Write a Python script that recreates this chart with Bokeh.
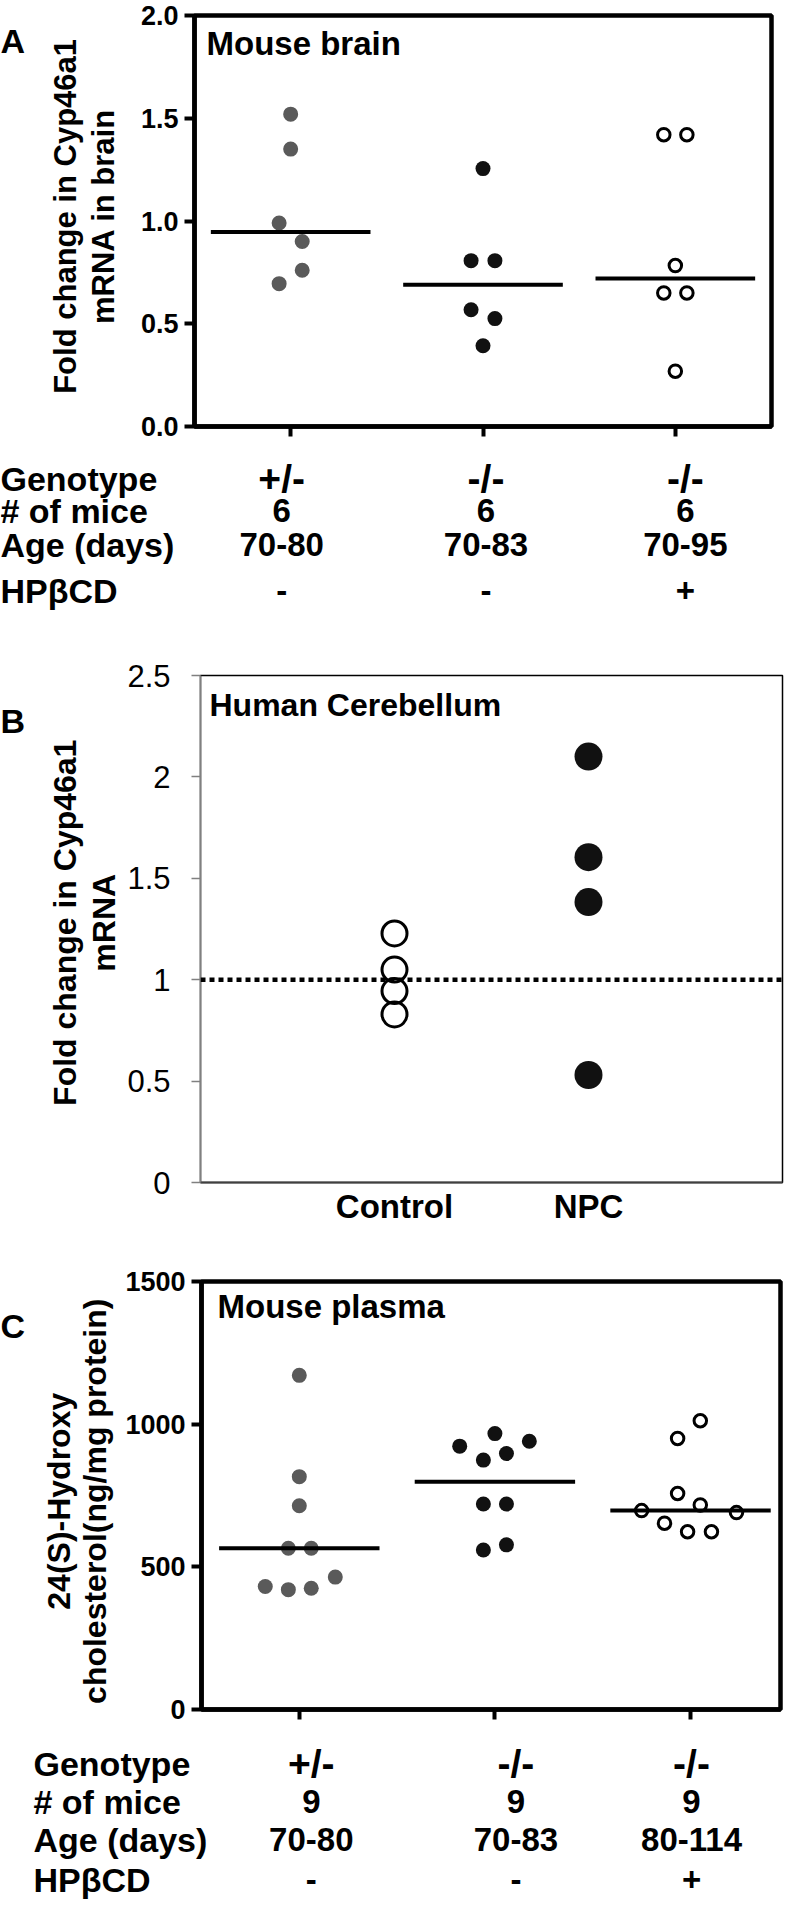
import math
from bokeh.plotting import figure
from bokeh.models import FixedTicker, Range1d, Label, Span
from bokeh.layouts import column, row
from bokeh.core.properties import value
from bokeh.embed import file_html
from bokeh.resources import INLINE

FONT = "Liberation Sans"

# ---------------- Panel A: Cyp46a1 mRNA, mouse brain ----------------
a_het = [1.52, 1.35, 0.99, 0.90, 0.76, 0.695]          # +/-
a_ko = [1.255, 0.807, 0.807, 0.568, 0.525, 0.393]     # -/-
a_ko_cd = [1.42, 1.42, 0.783, 0.65, 0.65, 0.269]       # -/- + HPbCD
a_center = [0.947, 0.69, 0.72]
a_yticks = [0, 0.5, 1.0, 1.5, 2.0]
a_ytick_labels = ["0.0", "0.5", "1.0", "1.5", "2.0"]
a_title = ["Fold change in Cyp46a1", "mRNA in brain"]

table_rows = ["Genotype", "# of mice", "Age (days)", "HPβCD"]
a_genotype = ["+/-", "-/-", "-/-"]
a_nmice = ["6", "6", "6"]
a_age = ["70-80", "70-83", "70-95"]
a_hpbcd = ["-", "-", "+"]

# ---------------- Panel B: human cerebellum ----------------
b_categories = ["Control", "NPC"]
b_control = [1.228, 1.05, 0.944, 0.829]
b_npc = [2.10, 1.604, 1.383, 0.53]
b_reference = 1.0
b_yticks = [0, 0.5, 1, 1.5, 2, 2.5]
b_ytick_labels = ["0", "0.5", "1", "1.5", "2", "2.5"]
b_title = ["Fold change in Cyp46a1", "mRNA"]

# ---------------- Panel C: 24(S)-hydroxycholesterol, mouse plasma ----------------
c_het = [1171, 816, 714, 565, 565, 464, 431, 420, 425]
c_ko = [967, 923, 940, 874, 897, 720, 720, 559, 577]
c_ko_cd = [1012, 950, 757, 697, 717, 690, 653, 623, 623]
c_center = [565, 798, 697]
c_yticks = [0, 500, 1000, 1500]
c_ytick_labels = ["0", "500", "1000", "1500"]
c_title = ["24(S)-Hydroxy", "cholesterol(ng/mg protein)"]

c_genotype = ["+/-", "-/-", "-/-"]
c_nmice = ["9", "9", "9"]
c_age = ["70-80", "70-83", "80-114"]
c_hpbcd = ["-", "-", "+"]

# ---------------- layout (horizontal spread of dots, data units) ----------------
cats3 = [1, 2, 3]
a_jit = [[0, 0, -0.06, 0.06, 0.06, -0.06],
         [0, -0.062, 0.062, -0.062, 0.062, 0],
         [-0.06, 0.06, 0, -0.06, 0.06, 0]]
c_jit = [[0, 0, 0, -0.056, 0.061, 0.184, -0.174, -0.056, 0.061],
         [0, -0.18, 0.176, -0.059, 0.059, -0.059, 0.059, -0.059, 0.059],
         [0.05, -0.066, -0.066, -0.25, 0.05, 0.235, -0.133, -0.015, 0.107]]
GRAY = "#5a5a5a"
BLACK = "#111111"
W = 784
LW = 120          # left column (panel letter + y title)
RW = W - LW


def base_fig(w, h, xr, yr, left, right, top, bottom):
    p = figure(width=w, height=h, x_range=xr, y_range=yr, output_backend="svg",
               toolbar_location=None, min_border_left=left, min_border_right=right,
               min_border_top=top, min_border_bottom=bottom)
    p.xgrid.visible = False
    p.ygrid.visible = False
    p.background_fill_color = "white"
    p.border_fill_color = "white"
    return p


def blank_fig(w, h, xr=None):
    p = figure(width=w, height=h, x_range=xr if xr is not None else Range1d(0, w),
               y_range=Range1d(0, h), output_backend="svg", toolbar_location=None,
               x_axis_type=None, y_axis_type=None, min_border=0)
    p.outline_line_color = None
    p.background_fill_color = "white"
    p.border_fill_color = "white"
    return p


def left_column(h, letter, letter_base, title, title_xs, title_mid, title_size):
    """Panel letter and two-line rotated y title; positions in px from the top."""
    p = blank_fig(LW, h)
    p.text(x=[0], y=[h - letter_base], text=[letter], text_font=value(FONT),
           text_font_style="bold", text_font_size="34px", text_color="black",
           text_align="left", text_baseline="alphabetic")
    p.text(x=title_xs, y=[h - title_mid] * len(title), text=title, angle=math.pi / 2,
           text_font=value(FONT), text_font_style="bold", text_font_size=title_size,
           text_color="black", text_align="center", text_baseline="middle")
    return p


def thick_axes(p, yticks, ylabels):
    p.outline_line_color = "black"
    p.outline_line_width = 4.5
    p.outline_line_alpha = 1
    for ax in (p.xaxis[0], p.yaxis[0]):
        ax.axis_line_width = 4.5
        ax.axis_line_color = "black"
        ax.major_tick_line_width = 4
        ax.major_tick_line_color = "black"
        ax.major_tick_out = 10
        ax.major_tick_in = 0
        ax.minor_tick_line_color = None
    ya = p.yaxis[0]
    ya.ticker = FixedTicker(ticks=yticks)
    ya.major_label_overrides = {t: s for t, s in zip(yticks, ylabels)}
    ya.major_label_text_font = FONT
    ya.major_label_text_font_style = "bold"
    ya.major_label_text_font_size = "27px"
    ya.major_label_text_color = "black"
    ya.major_label_standoff = 6
    xa = p.xaxis[0]
    xa.ticker = FixedTicker(ticks=cats3)
    xa.major_label_overrides = {c: "" for c in cats3}
    xa.major_label_text_font_size = "2px"


def table_fig(h, frame_l, frame_r, x0, x1, hdr_px, row_px, cols, col_dx):
    """Row/column table under a panel; x in the panel's data units, y in px from top."""
    s = (frame_r - frame_l) / (x1 - x0)
    xr = Range1d(x0 - frame_l / s, x1 + (W - frame_r) / s)
    p = blank_fig(W, h, xr)
    ys = [h - r for r in row_px]
    p.text(x=[xr.start + hdr_px / s] * len(table_rows), y=ys, text=table_rows,
           text_font=value(FONT), text_font_style="bold", text_font_size="34px",
           text_color="black", text_align="left", text_baseline="middle")
    for i, vals in enumerate(cols):
        p.text(x=[c + d / s for c, d in zip(cats3, col_dx)], y=[ys[i]] * 3, text=vals,
               text_font=value(FONT), text_font_style="bold",
               text_font_size="39px" if i == 0 else "33px",
               text_color="black", text_align="center", text_baseline="middle")
    return p


def add_text(p, x, y, text, size, dx=0):
    p.add_layout(Label(x=x, y=y, x_offset=dx, text=text, text_font=FONT,
                       text_font_style="bold", text_font_size=size, text_color="black",
                       text_align="left", text_baseline="middle"))


def strip(p, groups, jits, center, half, sizes):
    for k, vals in enumerate(groups):
        xs = [cats3[k] + j for j in jits[k]]
        if k == 2:
            p.scatter(x=xs, y=vals, size=sizes[1], fill_color="white",
                      line_color="black", line_width=3)
        else:
            p.scatter(x=xs, y=vals, size=sizes[0], fill_color=GRAY if k == 0 else BLACK,
                      line_color=None)
    p.segment(x0=[c - half for c in cats3], x1=[c + half for c in cats3],
              y0=center, y1=center, line_width=4, line_color="black")


# ================= Panel A =================
HA = 446
pa = base_fig(RW, HA, Range1d(0.5, 3.5), Range1d(0, 2.0), 74, 13, 15, 20)
thick_axes(pa, a_yticks, a_ytick_labels)
strip(pa, [a_het, a_ko, a_ko_cd], a_jit, a_center, 0.415, (15, 12.5))
add_text(pa, 0.5, 1.866, "Mouse brain", "33px", dx=12)
la = left_column(HA, "A", 28, a_title, [65, 103], 218, "31px")
ta = table_fig(191, 194, 771, 0.5, 3.5, 0, [32, 64, 98, 144],
               [a_genotype, a_nmice, a_age, a_hpbcd], [-9, 3, 10])

# ================= Panel B =================
HB = 607
pb = base_fig(RW, HB, Range1d(0, 3), Range1d(0, 2.5), 80, 2, 38, 62)
pb.outline_line_color = "black"
pb.outline_line_width = 1.5
ya = pb.yaxis[0]
ya.ticker = FixedTicker(ticks=b_yticks)
ya.major_label_overrides = {t: s for t, s in zip(b_yticks, b_ytick_labels)}
ya.axis_line_color = "#808080"
ya.axis_line_width = 1.5
ya.major_tick_line_color = "#808080"
ya.major_tick_line_width = 1.5
ya.major_tick_out = 9
ya.major_tick_in = 0
ya.minor_tick_line_color = None
ya.major_label_text_font = FONT
ya.major_label_text_font_size = "31px"
ya.major_label_text_color = "black"
ya.major_label_standoff = 21
xa = pb.xaxis[0]
xa.ticker = FixedTicker(ticks=[1, 2])
xa.major_label_overrides = {i + 1: s for i, s in enumerate(b_categories)}
xa.axis_line_color = "#404040"
xa.axis_line_width = 2
xa.major_tick_line_color = None
xa.minor_tick_line_color = None
xa.major_tick_out = 0
xa.major_label_standoff = 5
xa.major_label_text_font = FONT
xa.major_label_text_font_style = "bold"
xa.major_label_text_font_size = "33px"
xa.major_label_text_color = "black"
pb.add_layout(Span(location=b_reference, dimension="width", line_color="black",
                   line_width=4.5, line_dash="5 4"))
pb.scatter(x=[1] * len(b_control), y=b_control, size=25, fill_color=None,
           line_color="black", line_width=3)
pb.scatter(x=[2] * len(b_npc), y=b_npc, size=28, fill_color=BLACK, line_color=None)
add_text(pb, 0, 2.355, "Human Cerebellum", "32px", dx=9)
lb = left_column(HB, "B", 55, b_title, [64, 103], 296, "32px")

# ================= Panel C =================
HC = 485
pc = base_fig(RW, HC, Range1d(0.5, 3.46), Range1d(0, 1500), 81, 4, 37, 20)
thick_axes(pc, c_yticks, c_ytick_labels)
strip(pc, [c_het, c_ko, c_ko_cd], c_jit, c_center, 0.41, (15, 12.5))
add_text(pc, 0.5, 1413, "Mouse plasma", "33px", dx=16)
lc = left_column(HC, "C", 50, c_title, [58, 94], 249, "32px")
tc = table_fig(172, 201, 780, 0.5, 3.46, 33, [34, 72, 110, 150],
               [c_genotype, c_nmice, c_age, c_hpbcd], [12, 21, 1])

layout = column(row(la, pa), ta, row(lb, pb), row(lc, pc), tc)
open("out.html", "w").write(file_html(layout, INLINE, title="Cyp46a1"))
